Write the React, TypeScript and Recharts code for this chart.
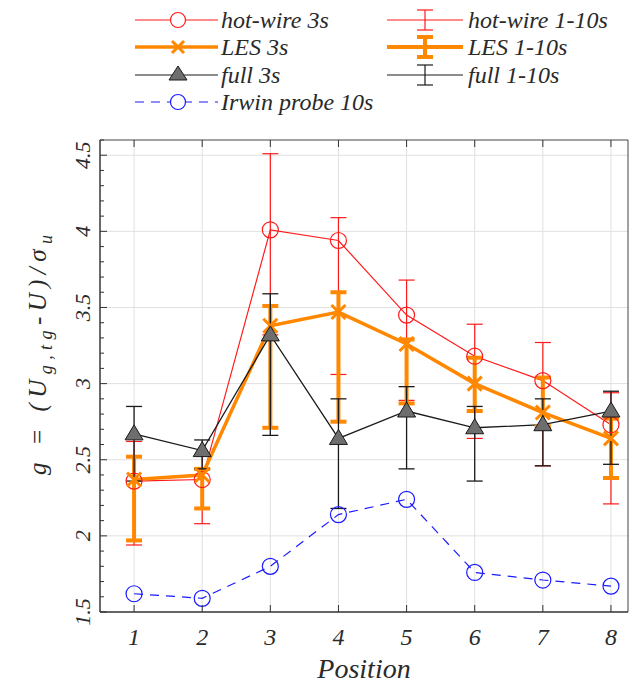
import React from 'react'
import {
  LineChart,
  Line,
  XAxis,
  YAxis,
  CartesianGrid,
  ErrorBar,
  ReferenceArea
} from 'recharts'

// measured values
const positions = [1, 2, 3, 4, 5, 6, 7, 8]
const hotWire3s = [2.36, 2.37, 4.01, 3.94, 3.45, 3.18, 3.02, 2.73]
const les3s = [2.37, 2.4, 3.38, 3.47, 3.26, 3.0, 2.81, 2.64]
const full3s = [2.67, 2.56, 3.32, 2.64, 2.82, 2.71, 2.73, 2.82]
const irwin10s = [1.62, 1.59, 1.8, 2.14, 2.24, 1.76, 1.71, 1.67]

// 1-10s ranges
const hotWireLo = [1.94, 2.08, 3.32, 3.06, 2.89, 2.64, 2.46, 2.21]
const hotWireHi = [2.62, 2.53, 4.51, 4.09, 3.68, 3.39, 3.27, 2.94]
const lesLo = [1.97, 2.18, 2.71, 2.75, 2.87, 2.82, 2.72, 2.38]
const lesHi = [2.52, 2.44, 3.51, 3.6, 3.29, 3.17, 3.04, 2.77]
const fullLo = [2.36, 2.44, 2.66, 2.18, 2.44, 2.36, 2.46, 2.47]
const fullHi = [2.85, 2.63, 3.59, 2.9, 2.98, 2.85, 2.9, 2.95]

const yMajorTicks = [1.5, 2, 2.5, 3, 3.5, 4, 4.5]
const yAllTicks = [
  1.5, 1.6, 1.7, 1.8, 1.9, 2, 2.1, 2.2, 2.3, 2.4, 2.5, 2.6, 2.7, 2.8, 2.9, 3,
  3.1, 3.2, 3.3, 3.4, 3.5, 3.6, 3.7, 3.8, 3.9, 4, 4.1, 4.2, 4.3, 4.4, 4.5, 4.6
]

const W = 632
const H = 684
const PLOT_LEFT = 100
const PLOT_TOP = 140
const PLOT_BOTTOM = 612
const FONT = '"Liberation Serif", serif'
const TXT = '#2a2a2a'
const serifItalic = { fontFamily: FONT, fontStyle: 'italic' as const }

const RED = '#ff1a1a'
const ORANGE = '#ff8800'
const BLACK = '#1a1a1a'
const BLUE = '#1a1aff'

const data = positions.map((p, i) => ({
  pos: p,
  hw: hotWire3s[i],
  les: les3s[i],
  full: full3s[i],
  irwin: irwin10s[i],
  hwLo: hotWireLo[i],
  hwErr: [0, hotWireHi[i] - hotWireLo[i]],
  lesLo: lesLo[i],
  lesErr: [0, lesHi[i] - lesLo[i]],
  fullLo: fullLo[i],
  fullErr: [0, fullHi[i] - fullLo[i]]
}))

const Circle = (color: string) => (props: any) => {
  const { cx, cy, index } = props
  if (cx == null || cy == null) return <g key={index} />
  return <circle key={index} cx={cx} cy={cy} r={8} fill="none" stroke={color} strokeWidth={1.2} />
}

const Cross = (props: any) => {
  const { cx, cy, index } = props
  if (cx == null || cy == null) return <g key={index} />
  const s = 7
  return (
    <g key={index} stroke={ORANGE} strokeWidth={3}>
      <line x1={cx - s} y1={cy - s} x2={cx + s} y2={cy + s} />
      <line x1={cx - s} y1={cy + s} x2={cx + s} y2={cy - s} />
    </g>
  )
}

const Triangle = (props: any) => {
  const { cx, cy, index } = props
  if (cx == null || cy == null) return <g key={index} />
  return (
    <polygon
      key={index}
      points={`${cx},${cy - 9} ${cx - 9},${cy + 6} ${cx + 9},${cy + 6}`}
      fill="#6e6e6e"
      stroke={BLACK}
      strokeWidth={1}
    />
  )
}

const XTick = (props: any) => {
  const { x, payload } = props
  return (
    <g>
      <line x1={x} x2={x} y1={PLOT_BOTTOM} y2={PLOT_BOTTOM - 7} stroke="#333" />
      <line x1={x} x2={x} y1={PLOT_TOP} y2={PLOT_TOP + 7} stroke="#333" />
      <text x={x} y={645} textAnchor="middle" style={serifItalic} fontSize={24} fill={TXT}>
        {payload.value}
      </text>
    </g>
  )
}

const YTick = (props: any) => {
  const { y, payload } = props
  const v = payload.value
  const major = yMajorTicks.includes(v)
  return (
    <g>
      <line x1={PLOT_LEFT} x2={PLOT_LEFT + (major ? 7 : 4)} y1={y} y2={y} stroke="#333" />
      {major && (
        <text
          x={90}
          y={y}
          transform={`rotate(-90 90 ${y})`}
          textAnchor="middle"
          style={serifItalic}
          fontSize={22}
          fill={TXT}
        >
          {String(v)}
        </text>
      )}
    </g>
  )
}

const legendRows = [20, 47, 75, 102]

function LegendOverlay() {
  const t = (x: number, y: number, s: string) => (
    <text x={x} y={y + 8} style={serifItalic} fontSize={24} fill={TXT}>
      {s}
    </text>
  )
  const errIcon = (y: number, color: string, sw: number) => (
    <g stroke={color} strokeWidth={sw}>
      <line x1={387} x2={463} y1={y} y2={y} />
      <line x1={425} x2={425} y1={y - 10} y2={y + 10} />
      <line x1={417} x2={433} y1={y - 10} y2={y - 10} />
      <line x1={417} x2={433} y1={y + 10} y2={y + 10} />
    </g>
  )
  const [r1, r2, r3, r4] = legendRows
  return (
    <svg width={W} height={130} style={{ position: 'absolute', left: 0, top: 0 }}>
      <line x1={135} x2={218} y1={r1} y2={r1} stroke={RED} strokeWidth={1.2} />
      <circle cx={178} cy={r1} r={7.5} fill="white" stroke={RED} strokeWidth={1.2} />
      {t(221, r1, 'hot-wire 3s')}
      <line x1={135} x2={218} y1={r2} y2={r2} stroke={ORANGE} strokeWidth={3.5} />
      <g stroke={ORANGE} strokeWidth={3}>
        <line x1={172} y1={r2 - 6} x2={184} y2={r2 + 6} />
        <line x1={172} y1={r2 + 6} x2={184} y2={r2 - 6} />
      </g>
      {t(221, r2, 'LES 3s')}
      <line x1={135} x2={218} y1={r3} y2={r3} stroke={BLACK} strokeWidth={1.2} />
      <polygon points={`178,${r3 - 9} 169,${r3 + 5} 187,${r3 + 5}`} fill="#6e6e6e" stroke={BLACK} />
      {t(221, r3, 'full 3s')}
      <line x1={135} x2={218} y1={r4} y2={r4} stroke={BLUE} strokeWidth={1.2} strokeDasharray="9 7" />
      <circle cx={178} cy={r4} r={7.5} fill="white" stroke={BLUE} strokeWidth={1.2} />
      {t(221, r4, 'Irwin probe 10s')}
      {errIcon(r1, RED, 1.2)}
      {t(468, r1, 'hot-wire 1-10s')}
      {errIcon(r2, ORANGE, 4)}
      {t(468, r2, 'LES 1-10s')}
      {errIcon(r3, BLACK, 1.2)}
      {t(468, r3, 'full 1-10s')}
    </svg>
  )
}

function YLabel() {
  return (
    <svg width={80} height={H} style={{ position: 'absolute', left: 0, top: 0 }}>
      <text
        x={46}
        y={355}
        transform="rotate(-90 46 355)"
        textAnchor="middle"
        textLength={240}
        lengthAdjust="spacing"
        style={serifItalic}
        fontSize={25}
        fill={TXT}
      >
        g = (U
        <tspan fontSize={18} dy={6}>g,tg</tspan>
        <tspan dy={-6}>-U)/σ</tspan>
        <tspan fontSize={18} dy={6}>u</tspan>
      </text>
    </svg>
  )
}

export default function App() {
  return (
    <div style={{ position: 'absolute', left: 0, top: 0, width: W, height: H, background: 'white' }}>
      <LineChart
        width={W}
        height={H}
        data={data}
        margin={{ top: PLOT_TOP, right: 4, bottom: 0, left: 40 }}
      >
        <CartesianGrid
          stroke="#e0e0e0"
          strokeWidth={1}
          horizontalValues={yMajorTicks}
          verticalValues={positions}
        />
        <XAxis
          dataKey="pos"
          type="number"
          domain={[0.5, 8.25]}
          ticks={positions}
          interval={0}
          allowDataOverflow
          height={72}
          tickLine={false}
          axisLine={{ stroke: '#333' }}
          tick={<XTick />}
          label={{
            value: 'Position',
            position: 'insideBottom',
            offset: 6,
            style: { ...serifItalic, fontSize: 28, fill: TXT }
          }}
        />
        <YAxis
          type="number"
          domain={[1.5, 4.6]}
          ticks={yAllTicks}
          interval={0}
          allowDataOverflow
          width={60}
          tickLine={false}
          axisLine={{ stroke: '#333' }}
          tick={<YTick />}
        />
        <ReferenceArea x1={0.5} x2={8.25} y1={1.5} y2={4.6} fill="none" stroke="#444" strokeWidth={1} />
        <Line
          dataKey="hw"
          type="linear"
          stroke={RED}
          strokeWidth={1.2}
          dot={Circle(RED)}
          activeDot={false}
          isAnimationActive={false}
        />
        <Line
          dataKey="les"
          type="linear"
          stroke={ORANGE}
          strokeWidth={3.5}
          dot={Cross}
          activeDot={false}
          isAnimationActive={false}
        />
        <Line
          dataKey="full"
          type="linear"
          stroke={BLACK}
          strokeWidth={1.3}
          dot={Triangle}
          activeDot={false}
          isAnimationActive={false}
        />
        <Line
          dataKey="irwin"
          type="linear"
          stroke={BLUE}
          strokeWidth={1.2}
          strokeDasharray="9 7"
          dot={Circle(BLUE)}
          activeDot={false}
          isAnimationActive={false}
        />
        <Line dataKey="hwLo" stroke="none" dot={false} activeDot={false} isAnimationActive={false}>
          <ErrorBar dataKey="hwErr" direction="y" width={8} stroke={RED} strokeWidth={1.2} isAnimationActive={false} />
        </Line>
        <Line dataKey="lesLo" stroke="none" dot={false} activeDot={false} isAnimationActive={false}>
          <ErrorBar dataKey="lesErr" direction="y" width={8} stroke={ORANGE} strokeWidth={4} isAnimationActive={false} />
        </Line>
        <Line dataKey="fullLo" stroke="none" dot={false} activeDot={false} isAnimationActive={false}>
          <ErrorBar dataKey="fullErr" direction="y" width={8} stroke={BLACK} strokeWidth={1.3} isAnimationActive={false} />
        </Line>
      </LineChart>
      <LegendOverlay />
      <YLabel />
    </div>
  )
}
